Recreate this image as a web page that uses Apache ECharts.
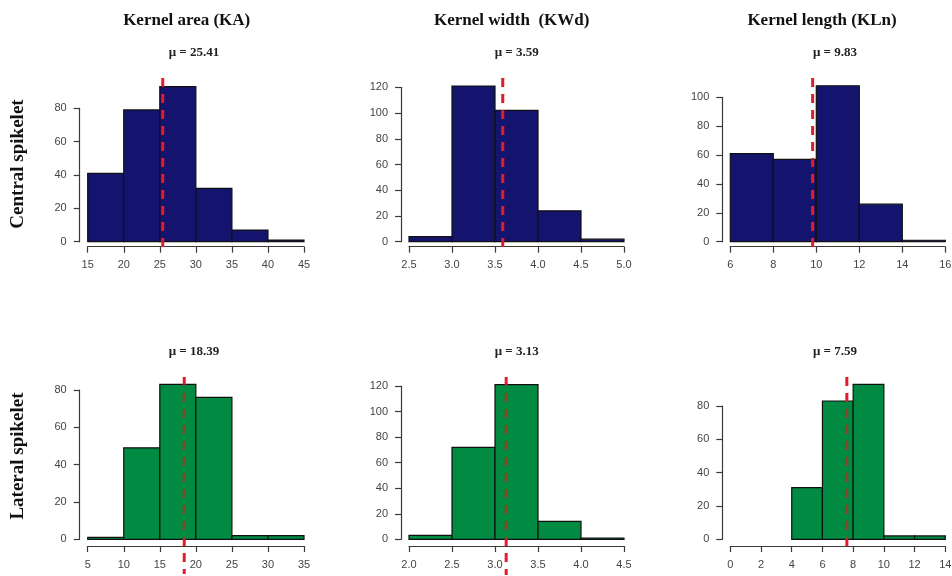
<!DOCTYPE html>
<html><head><meta charset="utf-8">
<script src="https://cdn.jsdelivr.net/npm/echarts@6/dist/echarts.min.js"></script>
<style>html,body{margin:0;padding:0;background:#fff}#c{width:952px;height:576px}</style>
</head><body><div id="c"></div>
<script>
// ---------------- DATA ----------------
const traitTitles = ['Kernel area (KA)', 'Kernel width  (KWd)', 'Kernel length (KLn)'];
const rowLabels = ['Central spikelet', 'Lateral spikelet'];

// bin edges + counts for each histogram
const kaCentralEdges = [15, 20, 25, 30, 35, 40, 45];
const kaCentralCounts = [41, 79, 93, 32, 7, 1];
const kaCentralMean = 25.41;

const kwdCentralEdges = [2.5, 3.0, 3.5, 4.0, 4.5, 5.0];
const kwdCentralCounts = [4, 121, 102, 24, 2];
const kwdCentralMean = 3.59;

const klnCentralEdges = [6, 8, 10, 12, 14, 16];
const klnCentralCounts = [61, 57, 108, 26, 1];
const klnCentralMean = 9.83;

const kaLateralEdges = [5, 10, 15, 20, 25, 30, 35];
const kaLateralCounts = [1, 49, 83, 76, 2, 2];
const kaLateralMean = 18.39;

const kwdLateralEdges = [2.0, 2.5, 3.0, 3.5, 4.0, 4.5];
const kwdLateralCounts = [3, 72, 121, 14, 1];
const kwdLateralMean = 3.13;

const klnLateralEdges = [0, 2, 4, 6, 8, 10, 12, 14];
const klnLateralCounts = [0, 0, 31, 83, 93, 2, 2];
const klnLateralMean = 7.59;

// axis tick settings
const xTicks = [
  {min: 15, max: 45, interval: 5, dec: 0},
  {min: 2.5, max: 5.0, interval: 0.5, dec: 1},
  {min: 6, max: 16, interval: 2, dec: 0},
  {min: 5, max: 35, interval: 5, dec: 0},
  {min: 2.0, max: 4.5, interval: 0.5, dec: 1},
  {min: 0, max: 14, interval: 2, dec: 0}
];
const yTicks = [
  {max: 80, interval: 20}, {max: 120, interval: 20}, {max: 100, interval: 20},
  {max: 80, interval: 20}, {max: 120, interval: 20}, {max: 80, interval: 20}
];

// ---------------- LAYOUT / STYLE ----------------
const panels = [
  {edges: kaCentralEdges, counts: kaCentralCounts, mean: kaCentralMean, row: 0,
   grid: {left: 87.7, top: 108.3, width: 216.3, height: 133.4}, lineTop: 78, lineBottom: 249},
  {edges: kwdCentralEdges, counts: kwdCentralCounts, mean: kwdCentralMean, row: 0,
   grid: {left: 409, top: 87.3, width: 215, height: 154.4}, lineTop: 78, lineBottom: 249},
  {edges: klnCentralEdges, counts: klnCentralCounts, mean: klnCentralMean, row: 0,
   grid: {left: 730.3, top: 97.3, width: 215, height: 144.4}, lineTop: 78, lineBottom: 249},
  {edges: kaLateralEdges, counts: kaLateralCounts, mean: kaLateralMean, row: 1,
   grid: {left: 87.7, top: 390, width: 216.3, height: 149.3}, lineTop: 377, lineBottom: 574},
  {edges: kwdLateralEdges, counts: kwdLateralCounts, mean: kwdLateralMean, row: 1,
   grid: {left: 409, top: 386, width: 215, height: 153.3}, lineTop: 377, lineBottom: 575},
  {edges: klnLateralEdges, counts: klnLateralCounts, mean: klnLateralMean, row: 1,
   grid: {left: 730.3, top: 406, width: 215, height: 133.3}, lineTop: 377, lineBottom: 548}
];
const rowFill = ['#14146e', '#008a42'];
const innerLineColor = ['#e8192c', '#8c4424'];
const lineRed = '#e8192c';
const dash = [9, 7];
const xAxisOffset = [5, 6.7];
const titleCenters = [186.7, 511.7, 822];
const muCenters = [194, 516.7, 835];
const muY = [52.3, 351.7];
const rowLabelY = [164, 456];

const chart = echarts.init(document.getElementById('c'), null, {renderer: 'canvas'});

const grids = [], xAxes = [], yAxes = [], series = [];
panels.forEach((p, i) => {
  grids.push(Object.assign({containLabel: false, outerBoundsMode: 'none'}, p.grid));
  const xt = xTicks[i], yt = yTicks[i];
  xAxes.push({
    type: 'value', gridIndex: i, min: xt.min, max: xt.max, interval: xt.interval,
    offset: xAxisOffset[p.row],
    axisLine: {show: true, onZero: false, lineStyle: {color: '#3a3a3a', width: 1.2}},
    axisTick: {show: true, length: 6, lineStyle: {color: '#3a3a3a', width: 1.2}},
    splitLine: {show: false},
    axisLabel: {color: '#444', fontSize: 11, fontFamily: 'Liberation Sans', margin: 13,
      showMinLabel: true, showMaxLabel: true,
      formatter: v => Number(v).toFixed(xt.dec)}
  });
  yAxes.push({
    type: 'value', gridIndex: i, min: 0, max: yt.max, interval: yt.interval,
    offset: 8,
    axisLine: {show: true, onZero: false, lineStyle: {color: '#3a3a3a', width: 1.2}},
    axisTick: {show: true, length: 6, lineStyle: {color: '#3a3a3a', width: 1.2}},
    splitLine: {show: false},
    axisLabel: {color: '#444', fontSize: 11, fontFamily: 'Liberation Sans', margin: 13,
      showMinLabel: true, showMaxLabel: true}
  });
  const binData = p.counts.map((c, k) => [p.edges[k], p.edges[k + 1], c]);
  const fill = rowFill[p.row];
  series.push({
    type: 'custom', coordinateSystem: 'cartesian2d', xAxisIndex: i, yAxisIndex: i,
    clip: false, z: 2, silent: true,
    encode: {x: [0, 1], y: 2},
    data: binData,
    renderItem: (params, api) => {
      const x0 = api.value(0), x1 = api.value(1), c = api.value(2);
      if (!c) return null;
      const a = api.coord([x0, c]), b = api.coord([x1, 0]);
      return {type: 'rect',
        shape: {x: a[0], y: a[1], width: b[0] - a[0], height: b[1] - a[1]},
        style: {fill: fill, stroke: '#101010', lineWidth: 1.2}};
    }
  });
  // count of the bin containing the mean (line looks tinted where it crosses that bar)
  let meanBinCount = 0;
  for (let k = 0; k < p.counts.length; k++) {
    if (p.mean >= p.edges[k] && p.mean < p.edges[k + 1]) meanBinCount = p.counts[k];
  }
  // mean line in three pieces: above bar (0), inside bar (1), below baseline (2)
  series.push({
    type: 'custom', coordinateSystem: 'cartesian2d', xAxisIndex: i, yAxisIndex: i,
    clip: false, z: 5, silent: true,
    encode: {x: 0, y: 1},
    data: [[p.mean, meanBinCount, 0], [p.mean, meanBinCount, 1], [p.mean, meanBinCount, 2]],
    renderItem: (params, api) => {
      const mx = api.value(0), part = api.value(2);
      const base = api.coord([mx, 0]);
      const top = api.coord([mx, api.value(1)]);
      let y1, y2, col;
      if (part === 0) { y1 = p.lineTop; y2 = top[1]; col = lineRed; }
      else if (part === 1) { y1 = top[1]; y2 = base[1]; col = innerLineColor[p.row]; }
      else { y1 = base[1]; y2 = p.lineBottom; col = lineRed; }
      if (y2 <= y1) return null;
      return {type: 'line',
        shape: {x1: base[0], y1: y1, x2: base[0], y2: y2},
        style: {stroke: col, fill: null, lineWidth: 3, lineDash: dash,
          lineDashOffset: y1 - p.lineTop, lineCap: 'butt'}};
    }
  });
});

const graphics = [];
traitTitles.forEach((t, j) => {
  graphics.push({type: 'text', x: titleCenters[j], y: 20.7, silent: true,
    style: {text: t, textAlign: 'center', textVerticalAlign: 'middle',
      font: 'bold 17px "Liberation Serif"', fill: '#111'}});
});
panels.forEach((p, i) => {
  const col = i % 3;
  graphics.push({type: 'text', x: muCenters[col], y: muY[p.row], silent: true,
    style: {text: '\u03bc = ' + p.mean.toFixed(2), textAlign: 'center', textVerticalAlign: 'middle',
      font: 'bold 13px "Liberation Serif"', fill: '#222'}});
});
rowLabels.forEach((t, r) => {
  graphics.push({type: 'text', x: 18, y: rowLabelY[r], rotation: Math.PI / 2, silent: true,
    style: {text: t, textAlign: 'center', textVerticalAlign: 'middle',
      font: 'bold 19px "Liberation Serif"', fill: '#111'}});
});

chart.setOption({
  animation: false,
  backgroundColor: '#ffffff',
  grid: grids, xAxis: xAxes, yAxis: yAxes, series: series,
  graphic: graphics
});
</script>
</body></html>
